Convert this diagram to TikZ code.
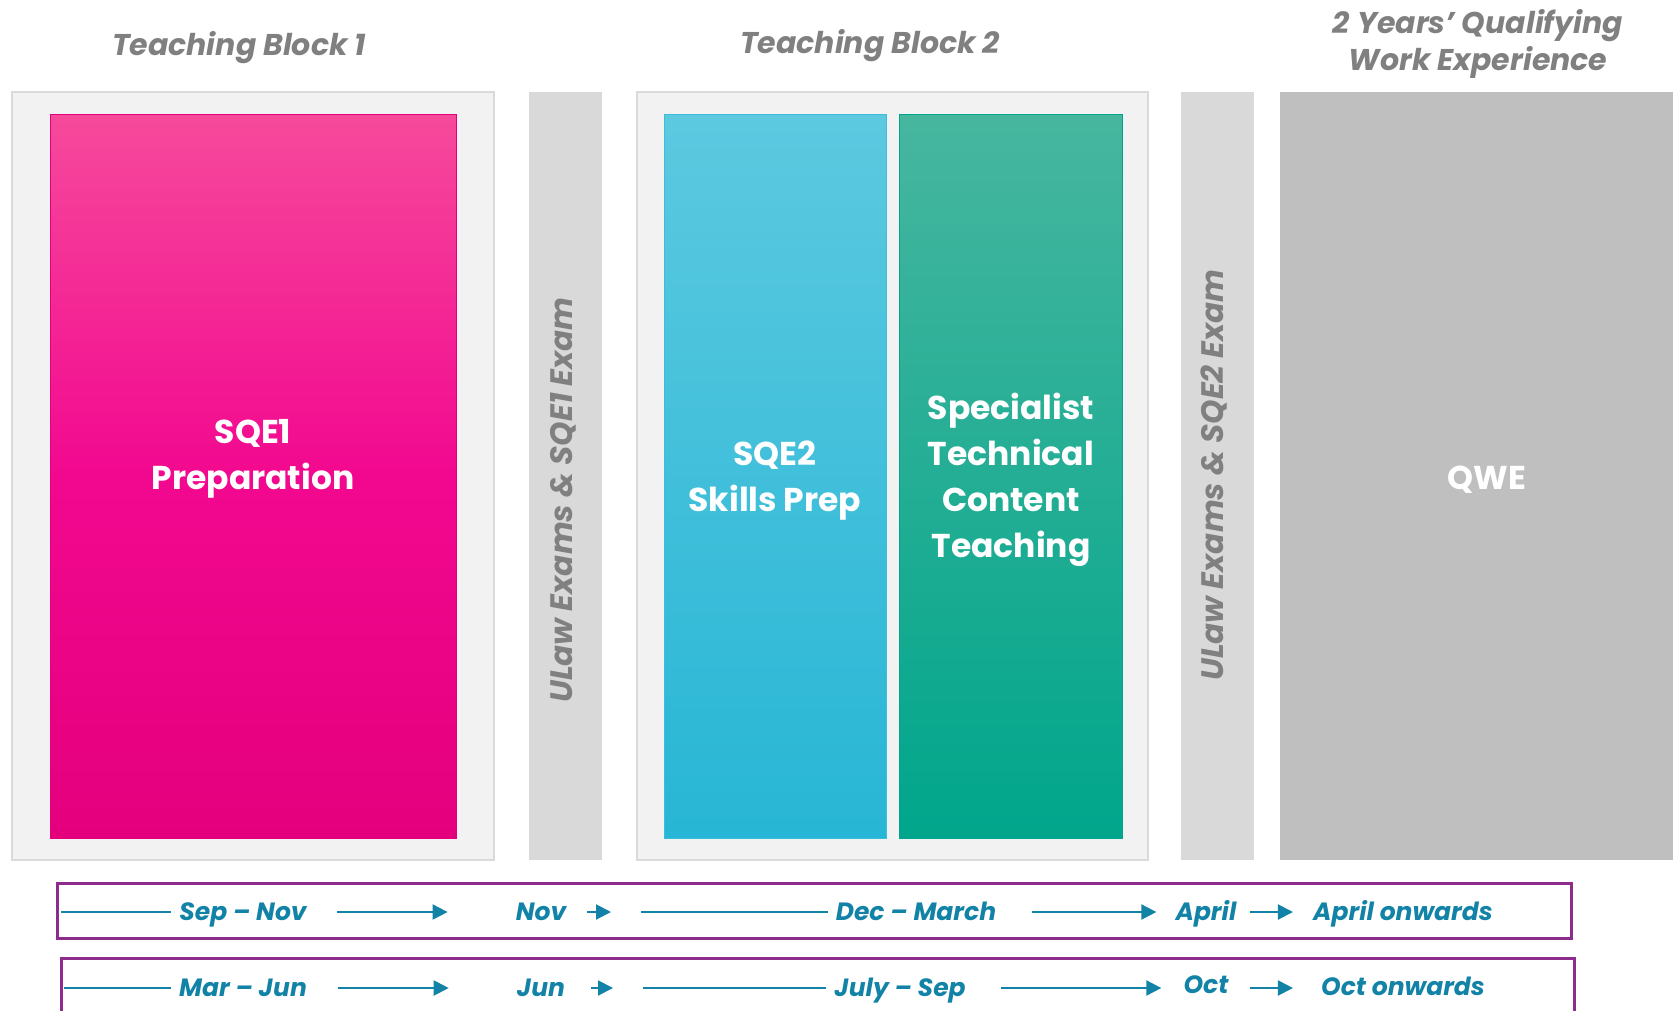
\documentclass[tikz,border=0pt]{standalone}
\usepackage{fontspec}
\setmainfont{Poppins}
\usetikzlibrary{arrows.meta, positioning}
\definecolor{panelgrey}{HTML}{F2F2F2}
\definecolor{edgegrey}{HTML}{DADADA}
\definecolor{bargrey}{HTML}{D9D9D9}
\definecolor{qwegrey}{HTML}{BFBFBF}
\definecolor{textgrey}{HTML}{808080}
\definecolor{pinktop}{HTML}{F64A9B}
\definecolor{pinkmid}{HTML}{F2088F}
\definecolor{pinkbot}{HTML}{E4007D}
\definecolor{cyantop}{HTML}{5CC9E0}
\definecolor{cyanbot}{HTML}{27B6D5}
\definecolor{tealtop}{HTML}{47B69F}
\definecolor{tealbot}{HTML}{00A68B}
\definecolor{monthblue}{HTML}{1283A6}
\definecolor{rowpurple}{HTML}{8E2C8E}
\tikzstyle{panel} = [draw=edgegrey, fill=panelgrey, line width=1.5pt, inner sep=0pt]
\tikzstyle{exambar} = [fill=bargrey, inner sep=0pt, minimum width=73pt, minimum height=768pt]
\tikzstyle{block} = [inner sep=0pt, minimum height=724pt, line width=1pt]
\tikzstyle{blocktext} = [text=white, align=center, font=\fontsize{33}{46}\selectfont\bfseries]
\tikzstyle{head} = [text=textgrey, align=center, font=\fontsize{30}{37}\selectfont\itshape\bfseries]
\tikzstyle{vtext} = [text=textgrey, rotate=90, font=\fontsize{31}{34}\selectfont\itshape\bfseries]
\tikzstyle{month} = [text=monthblue, inner sep=0pt, text height=17.5pt, text depth=0pt,
                     font=\fontsize{25}{30}\selectfont\itshape\bfseries]
\tikzstyle{tl} = [draw=monthblue, line width=2pt]
\tikzstyle{tlarrow} = [tl, -{Triangle[length=15pt, width=15pt]}]
\tikzstyle{row} = [draw=rowpurple, line width=3pt]

\begin{document}
\begin{tikzpicture}[x=1pt, y=-1pt]
    \useasboundingbox (0,0) rectangle (1673,1010);

    % headings
    \node[head] (h1) at (239,48) {Teaching Block 1};
    \node[head] (h2) at (870,46) {Teaching Block 2};
    \node[head] (h3) at (1478,44) {2 Years’ Qualifying\\Work Experience};

    % teaching block 1
    \node[panel, minimum width=482pt, minimum height=768pt] (tb1) at (253,476) {};
    \node[block, draw=pinkbot, top color=pinktop, bottom color=pinkbot, middle color=pinkmid,
          minimum width=406pt] (sqe1) at (253,476) {};
    \node[blocktext] (sqe1t) at ([yshift=17pt]sqe1.center) {SQE1\\Preparation};

    % exam bars
    \node[exambar] (ex1) at (565.5,476) {};
    \node[vtext] (ex1t) at (563,500) {ULaw Exams \& SQE1 Exam};
    \node[exambar] (ex2) at (1217,476) {};
    \node[vtext] (ex2t) at (1214,475) {ULaw Exams \& SQE2 Exam};

    % teaching block 2
    \node[panel, minimum width=511pt, minimum height=768pt] (tb2) at (892.5,476) {};
    \node[block, draw=cyanbot!90!white, top color=cyantop, bottom color=cyanbot,
          minimum width=222pt] (sqe2) at (775,476) {};
    \node[blocktext] (sqe2t) at ([yshift=-5pt]sqe2.center) {SQE2\\Skills Prep};
    \node[block, draw=tealbot, top color=tealtop, bottom color=tealbot,
          minimum width=223pt] (spec) at (1011,476) {};
    \node[blocktext] (spect) at ([yshift=-4pt]spec.center) {Specialist\\Technical\\Content\\Teaching};

    % qualifying work experience
    \node[fill=qwegrey, inner sep=0pt, minimum width=400pt, minimum height=768pt] (qwe) at (1480,476) {};
    \node[blocktext] (qwet) at (1487,480) {QWE};

    % timelines
    \draw[row] (57.5,883.5) rectangle (1571.5,938);
    \draw[row] (61,958) rectangle (1574,1040);

    \foreach \n/\x/\y/\t in {r1a/243/912/Sep – Nov, r1b/541/912/Nov, r1c/916/912/Dec – March,
                             r1d/1206/912/April, r1e/1403/912/April onwards,
                             r2a/243/988/Mar – Jun, r2b/541/988/Jun, r2c/900/988/July – Sep,
                             r2d/1206/985/Oct, r2e/1403/987/Oct onwards}
    \node[month] (\n) at (\x,\y) {\t};

    \coordinate (r1s) at (61,912);
    \coordinate (r1m) at (641,912);
    \coordinate (r2s) at (64,988);
    \coordinate (r2m) at (643,988);

    \foreach \f/\t in {r1s/r1a, r1m/r1c, r2s/r2a, r2m/r2c}
    \draw[tl, shorten >=8pt] (\f) -- (\t);

    \foreach \f/\t/\a/\b in {r1a/r1b/30/68, r1b/r1m/21/30, r1c/r1d/36/19, r1d/r1e/13/20,
                             r2a/r2b/31/68, r2b/r2m/26/30}
    \draw[tlarrow, shorten <=\a pt, shorten >=\b pt] (\f) -- (\t);
    \draw[tlarrow, shorten <=35pt, shorten >=22pt] (r2c) -- (r2d.west |- r2c);
    \draw[tlarrow, shorten <=21pt, shorten >=28pt] (r2d.east |- r2c) -- (r2e.west |- r2c);
\end{tikzpicture}
\end{document}
